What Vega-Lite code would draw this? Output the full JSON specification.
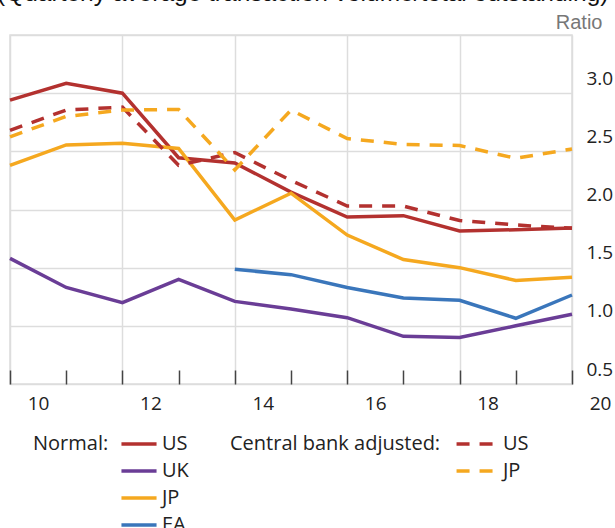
{
  "$schema": "https://vega.github.io/schema/vega-lite/v6.json",
  "width": 562,
  "height": 349,
  "autosize": {"type": "none"},
  "padding": {"left": 10, "top": 35, "right": 43, "bottom": 144},
  "config": {"view": {"stroke": "#dddddd", "strokeWidth": 1.5}, "font": "Open Sans"},
  "title": {"text": "(Quarterly average transaction volume/total outstanding)", "anchor": "start", "font": "Liberation Sans", "fontSize": 24.5, "fontWeight": "normal", "color": "#111111", "baseline": "alphabetic", "offset": 5, "dx": -6, "dy": 19},
  "data": {"values": [
    {"year": 10, "series": "US", "type": "Normal", "value": 2.94},
    {"year": 11, "series": "US", "type": "Normal", "value": 3.085},
    {"year": 12, "series": "US", "type": "Normal", "value": 3.0},
    {"year": 13, "series": "US", "type": "Normal", "value": 2.445},
    {"year": 14, "series": "US", "type": "Normal", "value": 2.4},
    {"year": 15, "series": "US", "type": "Normal", "value": 2.15},
    {"year": 16, "series": "US", "type": "Normal", "value": 1.935},
    {"year": 17, "series": "US", "type": "Normal", "value": 1.947},
    {"year": 18, "series": "US", "type": "Normal", "value": 1.815},
    {"year": 19, "series": "US", "type": "Normal", "value": 1.826},
    {"year": 20, "series": "US", "type": "Normal", "value": 1.84},
    {"year": 10, "series": "UK", "type": "Normal", "value": 1.58},
    {"year": 11, "series": "UK", "type": "Normal", "value": 1.33},
    {"year": 12, "series": "UK", "type": "Normal", "value": 1.2},
    {"year": 13, "series": "UK", "type": "Normal", "value": 1.4},
    {"year": 14, "series": "UK", "type": "Normal", "value": 1.21},
    {"year": 15, "series": "UK", "type": "Normal", "value": 1.145},
    {"year": 16, "series": "UK", "type": "Normal", "value": 1.07},
    {"year": 17, "series": "UK", "type": "Normal", "value": 0.91},
    {"year": 18, "series": "UK", "type": "Normal", "value": 0.9},
    {"year": 19, "series": "UK", "type": "Normal", "value": 1.0},
    {"year": 20, "series": "UK", "type": "Normal", "value": 1.1},
    {"year": 10, "series": "JP", "type": "Normal", "value": 2.38},
    {"year": 11, "series": "JP", "type": "Normal", "value": 2.555},
    {"year": 12, "series": "JP", "type": "Normal", "value": 2.57},
    {"year": 13, "series": "JP", "type": "Normal", "value": 2.525},
    {"year": 14, "series": "JP", "type": "Normal", "value": 1.91},
    {"year": 15, "series": "JP", "type": "Normal", "value": 2.14},
    {"year": 16, "series": "JP", "type": "Normal", "value": 1.78},
    {"year": 17, "series": "JP", "type": "Normal", "value": 1.57},
    {"year": 18, "series": "JP", "type": "Normal", "value": 1.5},
    {"year": 19, "series": "JP", "type": "Normal", "value": 1.39},
    {"year": 20, "series": "JP", "type": "Normal", "value": 1.417},
    {"year": 14, "series": "EA", "type": "Normal", "value": 1.486},
    {"year": 15, "series": "EA", "type": "Normal", "value": 1.44},
    {"year": 16, "series": "EA", "type": "Normal", "value": 1.33},
    {"year": 17, "series": "EA", "type": "Normal", "value": 1.24},
    {"year": 18, "series": "EA", "type": "Normal", "value": 1.22},
    {"year": 19, "series": "EA", "type": "Normal", "value": 1.065},
    {"year": 20, "series": "EA", "type": "Normal", "value": 1.265},
    {"year": 10, "series": "US", "type": "Adjusted", "value": 2.68},
    {"year": 11, "series": "US", "type": "Adjusted", "value": 2.855},
    {"year": 12, "series": "US", "type": "Adjusted", "value": 2.88},
    {"year": 13, "series": "US", "type": "Adjusted", "value": 2.38},
    {"year": 14, "series": "US", "type": "Adjusted", "value": 2.49},
    {"year": 15, "series": "US", "type": "Adjusted", "value": 2.25},
    {"year": 16, "series": "US", "type": "Adjusted", "value": 2.03},
    {"year": 17, "series": "US", "type": "Adjusted", "value": 2.03},
    {"year": 18, "series": "US", "type": "Adjusted", "value": 1.905},
    {"year": 19, "series": "US", "type": "Adjusted", "value": 1.867},
    {"year": 20, "series": "US", "type": "Adjusted", "value": 1.838},
    {"year": 10, "series": "JP", "type": "Adjusted", "value": 2.625},
    {"year": 11, "series": "JP", "type": "Adjusted", "value": 2.8},
    {"year": 12, "series": "JP", "type": "Adjusted", "value": 2.855},
    {"year": 13, "series": "JP", "type": "Adjusted", "value": 2.86},
    {"year": 14, "series": "JP", "type": "Adjusted", "value": 2.34},
    {"year": 15, "series": "JP", "type": "Adjusted", "value": 2.855},
    {"year": 16, "series": "JP", "type": "Adjusted", "value": 2.61},
    {"year": 17, "series": "JP", "type": "Adjusted", "value": 2.56},
    {"year": 18, "series": "JP", "type": "Adjusted", "value": 2.55},
    {"year": 19, "series": "JP", "type": "Adjusted", "value": 2.44},
    {"year": 20, "series": "JP", "type": "Adjusted", "value": 2.52}
  ]},
  "encoding": {
    "x": {"field": "year", "type": "quantitative", "scale": {"domain": [10, 20], "nice": false},
      "axis": {"title": null, "values": [10, 11, 12, 13, 14, 15, 16, 17, 18, 19, 20], "domain": false,
        "ticks": true, "tickSize": -14, "tickColor": "#444444", "tickWidth": 1.5,
        "grid": true, "gridColor": "#dddddd", "gridWidth": 1.5,
        "gridOpacity": {"condition": {"test": "datum.value % 2 == 1", "value": 0}, "value": 1},
        "labelExpr": "datum.value % 2 == 0 ? format(datum.value, 'd') : ''",
        "labelOffset": 28, "labelFlush": false, "labelOverlap": false, "labelBound": false,
        "labelFontSize": 19, "labelColor": "#222222", "labelPadding": 24}},
    "y": {"field": "value", "type": "quantitative", "scale": {"domain": [0.5, 3.5], "nice": false},
      "axis": {"orient": "right", "values": [0.5, 1, 1.5, 2, 2.5, 3, 3.5], "grid": true, "gridColor": "#dddddd", "gridWidth": 1.5,
        "ticks": false, "domain": false,
        "labelExpr": "datum.value > 3.2 ? '' : format(datum.value, '.1f')",
        "labelOffset": -15, "labelPadding": 14, "labelFontSize": 19, "labelColor": "#222222", "labelBound": false, "labelOverlap": false,
        "title": "Ratio", "titleAngle": 0, "titleAlign": "right", "titleBaseline": "middle", "titleX": 30, "titleY": -13,
        "titleFont": "Liberation Sans", "titleFontSize": 20, "titleFontWeight": "normal", "titleColor": "#777777"}}
  },
  "layer": [
    {
      "transform": [{"filter": "datum.type == 'Normal'"}],
      "mark": {"type": "line", "strokeWidth": 3.5},
      "encoding": {
        "color": {"field": "series", "type": "nominal",
          "scale": {"domain": ["US", "UK", "JP", "EA"], "range": ["#b3312f", "#6a3d96", "#f5a81f", "#3a76bb"]},
          "legend": {"title": "Normal:", "orient": "none", "legendX": 23, "legendY": 392, "direction": "vertical",
            "titleOrient": "left", "titleAnchor": "start", "titleBaseline": "line-top", "titleLineHeight": 34, "titleFontSize": 20, "titleFontWeight": "normal", "titleColor": "#222222", "titleFont": "Open Sans", "titleLimit": 300,
            "labelFontSize": 20, "labelColor": "#222222", "labelFont": "Open Sans",
            "symbolType": "M-1.17,0H1.17", "symbolSize": 900, "symbolStrokeWidth": 3.5, "rowPadding": -4, "titlePadding": 13, "labelOffset": 6}}
      }
    },
    {
      "transform": [{"filter": "datum.type == 'Adjusted'"}],
      "mark": {"type": "line", "strokeWidth": 3.5, "strokeDash": [13, 10]},
      "encoding": {
        "color": {"field": "series", "type": "nominal",
          "scale": {"domain": ["US", "JP"], "range": ["#b3312f", "#f5a81f"]},
          "legend": {"title": "Central bank adjusted:", "orient": "none", "legendX": 220, "legendY": 392, "direction": "vertical",
            "titleOrient": "left", "titleAnchor": "start", "titleBaseline": "line-top", "titleLineHeight": 34, "titleFontSize": 20, "titleFontWeight": "normal", "titleColor": "#222222", "titleFont": "Open Sans", "titleLimit": 300,
            "labelFontSize": 20, "labelColor": "#222222", "labelFont": "Open Sans",
            "symbolType": "M-1.23,0H1.23", "symbolSize": 900, "symbolStrokeWidth": 3.5, "symbolDash": [13, 10], "rowPadding": -4, "titlePadding": 17, "labelOffset": 11}}
      }
    }
  ],
  "resolve": {"scale": {"color": "independent"}}
}
